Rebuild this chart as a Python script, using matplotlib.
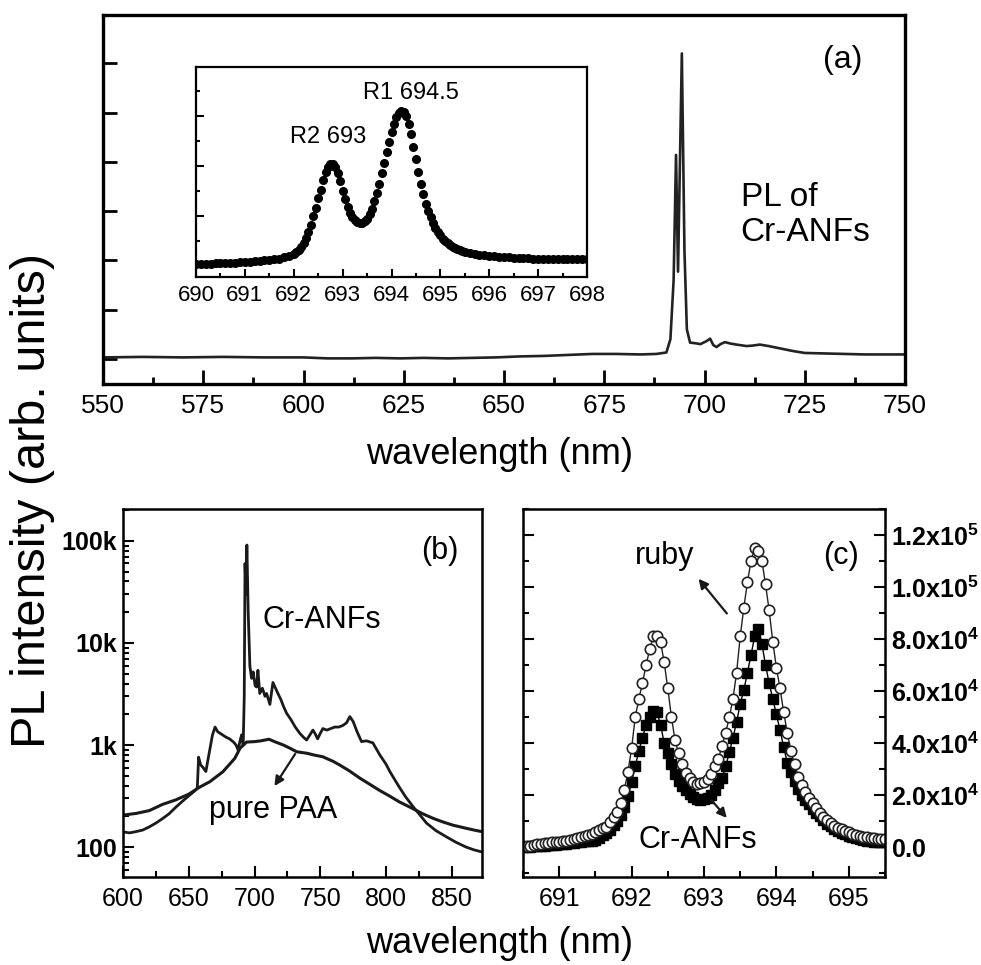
import numpy as np
import matplotlib
matplotlib.use('agg')
import matplotlib.pyplot as plt
from matplotlib.ticker import MultipleLocator, FixedLocator, LogLocator, NullFormatter

plt.rcParams['font.family'] = ['Liberation Sans', 'DejaVu Sans']
plt.rcParams['mathtext.fontset'] = 'custom'
plt.rcParams['mathtext.rm'] = 'Liberation Sans'
plt.rcParams['mathtext.bf'] = 'Liberation Sans:bold'

# ---- panel (a): full PL spectrum of Cr-ANFs (arb. units, 0 = lowest tick)
a_wl = [550, 560, 570, 580, 590, 600, 603, 606, 612, 618, 624, 630, 636, 642, 648,
        654, 660, 666, 672, 678, 684, 688, 690.5, 691.5, 692.3, 692.9, 693.4, 694.35,
        695.0, 695.6, 696.4, 697.5, 699, 700.5, 701.4, 702.2, 703, 704, 705.1, 706.5,
        708, 710.5, 712, 713.8, 716, 719, 722, 725, 730, 735, 740, 745, 750]
a_int = [0.03, 0.04, 0.03, 0.04, 0.03, 0.03, 0.02, 0.01, 0.01, 0.02, 0.01, 0.02, 0.01, 0.02, 0.03,
         0.05, 0.06, 0.08, 0.10, 0.10, 0.09, 0.10, 0.13, 0.4, 1.6, 4.14, 1.77, 6.2,
         2.2, 0.6, 0.33, 0.32, 0.30, 0.36, 0.41, 0.28, 0.24, 0.30, 0.34, 0.31,
         0.29, 0.26, 0.27, 0.29, 0.26, 0.21, 0.16, 0.12, 0.11, 0.10, 0.09, 0.09, 0.09]

# ---- inset: R lines (normalised intensity)
inset_wl = np.concatenate([np.round(np.arange(690.0, 691.95, 0.1), 2),
                           np.round(np.arange(692.0, 695.49, 0.05), 2),
                           np.round(np.arange(695.5, 698.01, 0.1), 2)])
inset_int = [0.060, 0.062, 0.063, 0.064, 0.065, 0.066, 0.067, 0.068, 0.069, 0.070,
             0.072, 0.073, 0.075, 0.077, 0.079, 0.081, 0.084, 0.088, 0.093, 0.100,
             0.110, 0.118, 0.128, 0.142, 0.160, 0.185, 0.215, 0.250, 0.290, 0.330,
             0.375, 0.415, 0.460, 0.500, 0.525, 0.540, 0.540, 0.525, 0.495, 0.455,
             0.410, 0.370, 0.335, 0.305, 0.285, 0.270, 0.262, 0.258, 0.258, 0.265,
             0.278, 0.298, 0.325, 0.360, 0.400, 0.445, 0.495, 0.545, 0.595, 0.645,
             0.690, 0.730, 0.760, 0.780, 0.790, 0.785, 0.765, 0.730, 0.680, 0.620,
             0.560, 0.500, 0.445, 0.395, 0.350, 0.315, 0.285, 0.258, 0.235, 0.215,
             0.198, 0.183, 0.170, 0.160, 0.151, 0.144, 0.138, 0.132, 0.127, 0.123,
             0.120, 0.115, 0.110, 0.106, 0.103, 0.100, 0.098, 0.096, 0.094, 0.093,
             0.092, 0.091, 0.090, 0.089, 0.088, 0.088, 0.087, 0.087, 0.087, 0.087,
             0.087, 0.087, 0.087, 0.088, 0.088, 0.088]

# ---- panel (b): log-scale spectra
b_cr_wl = [600, 605, 610, 615, 620, 625, 630, 635, 640, 645, 650, 655, 656.5, 657.5, 659,
           661, 663, 666, 668, 670, 672, 674, 676, 678, 681, 684, 686, 687.6, 689, 690.2,
           691.4, 692.2, 692.8, 693.5, 694.2, 695.2, 696.5, 697.8, 699, 700.5, 701.6,
           702.6, 704, 706, 708, 709.2, 711.7, 714, 716, 717.8, 720, 722, 724.4, 728,
           731, 734.5, 737, 739.6, 742, 744.4, 746, 748, 750, 752, 755, 758, 761, 764,
           767, 770, 772.5, 775, 778, 781.4, 785, 790, 795.3, 800, 803, 807, 810.5, 815,
           820.7, 826, 830.8, 838, 846, 853, 861, 867, 872.5, 875]
b_cr_int = [141, 138, 142, 147, 158, 172, 190, 212, 245, 280, 318, 360, 380, 760, 640,
            600, 550, 900, 1250, 1500, 1350, 1300, 1250, 1200, 1150, 1070, 1000, 890, 1100, 1260,
            1000, 3000, 60000, 30000, 91000, 20000, 5900, 4500, 5200, 3800, 3700,
            5400, 3200, 3600, 3000, 3200, 2500, 4100, 3600, 3200, 2800, 2400, 2050, 1750,
            1500, 1300, 1200, 1120, 1250, 1400, 1300, 1150, 1300, 1450, 1400, 1450, 1500, 1500,
            1550, 1650, 1900, 1700, 1350, 1080, 1100, 1050, 800, 650, 548, 450, 380, 310,
            248, 205, 172, 145, 126, 112, 100, 94, 90, 90]
b_paa_wl = [600, 610, 620, 630, 640, 650, 658, 666, 676, 685, 689, 694, 700, 705, 711,
            716, 722, 727, 732, 740, 745, 752, 760, 765, 772, 780, 788, 795, 803, 810,
            820, 828, 836, 843, 851, 860, 867, 875]
b_paa_int = [206, 214, 228, 262, 290, 330, 385, 437, 548, 740, 930, 1070, 1080, 1100, 1140,
             1070, 1000, 930, 860, 830, 800, 767, 690, 635, 560, 475, 410, 360, 315, 278,
             240, 212, 191, 177, 164, 154, 147, 140]
b_ticks = [100, 1000, 10000, 100000]
b_ticklabels = ['100', '1k', '10k', '100k']

# ---- panel (c): R lines, ruby vs Cr-ANFs (intensity in thousands of counts)
c_wl = np.round(np.arange(690.5, 695.51, 0.05), 2)
c_ruby_k = [0.3, 0.4, 0.6, 0.8, 1.0, 1.2, 1.4, 1.6, 1.8, 1.9,
            2.0, 2.2, 2.5, 2.8, 3.1, 3.5, 3.9, 4.3, 4.6, 5.2,
            5.8, 6.5, 7.2, 7.9, 9.5, 11.5, 13.5, 17, 22, 29,
            38, 50, 57, 63, 70, 76, 81, 81, 79, 71,
            61, 50, 41, 36, 32, 28.5, 26.5, 25, 24.3, 24.5,
            25, 26, 28, 31, 34, 39, 44, 50, 57, 67,
            81, 92, 102, 110, 115, 114, 110, 101, 91, 79,
            69, 61, 52, 44, 37, 32, 27, 24, 21, 19,
            17, 15, 13, 11.5, 10.3, 9.2, 8.3, 7.5, 6.8, 6.2,
            5.7, 5.2, 4.8, 4.4, 4.0, 3.8, 3.6, 3.4, 3.3, 3.2, 3.1]
c_cr_k = [0.0, 0.1, 0.2, 0.3, 0.4, 0.5, 0.6, 0.7, 0.8, 0.9,
          1.0, 1.1, 1.2, 1.4, 1.6, 1.8, 2.0, 2.2, 2.4, 2.5,
          2.6, 3.5, 4.5, 5.5, 6.6, 8.5, 10, 12.5, 15.5, 19.5,
          25, 31, 37, 42, 47, 50, 52.5, 52, 47, 40,
          36, 32, 28, 25.3, 23.5, 22, 20.5, 19.2, 18.3, 18,
          18.3, 18.8, 20, 22, 24.5, 26.5, 31, 36.5, 42, 48,
          55, 60.4, 67, 74, 81, 84, 78, 70, 63, 57,
          51, 45, 38.5, 32.5, 29, 25.5, 22.5, 20, 18, 16.5,
          14.8, 13, 11.8, 10.4, 9, 8, 7.1, 6.3, 5.6, 5,
          4.4, 3.9, 3.4, 3.1, 2.8, 2.5, 2.3, 2.1, 2.0, 1.9, 1.8]
c_ticks = [0, 2e4, 4e4, 6e4, 8e4, 1e5, 1.2e5]
c_ticklabels = [r'$\mathbf{0.0}$', r'$\mathbf{2.0x10^{4}}$', r'$\mathbf{4.0x10^{4}}$',
                r'$\mathbf{6.0x10^{4}}$', r'$\mathbf{8.0x10^{4}}$', r'$\mathbf{1.0x10^{5}}$',
                r'$\mathbf{1.2x10^{5}}$']

W, H = 981, 965
fig = plt.figure(figsize=(W / 100, H / 100), dpi=100)


def box(l, t, r, b):
    return [l / W, 1 - b / H, (r - l) / W, (b - t) / H]


# ================= (a)
ax_a = fig.add_axes(box(103, 15, 905, 384))
ax_a.plot(a_wl, a_int, '-', color='#222222', lw=1.9)
ax_a.set_xlim(550, 750)
ax_a.set_ylim(-0.51, 6.98)
ax_a.xaxis.set_major_locator(MultipleLocator(25))
ax_a.xaxis.set_minor_locator(MultipleLocator(12.5))
ax_a.yaxis.set_major_locator(MultipleLocator(1))
ax_a.set_yticklabels([])
ax_a.tick_params(which='both', direction='in', top=False, right=False, width=2, labelsize=19, pad=7)
ax_a.tick_params(which='major', length=10)
ax_a.tick_params(which='minor', length=5)
for s in ax_a.spines.values():
    s.set_linewidth(2.4)
ax_a.text(734.5, 6.06, '(a)', fontsize=23, ha='center', va='center')
ax_a.text(709, 2.92, 'PL of\nCr-ANFs', fontsize=24, ha='left', va='center', linespacing=1.15)

# inset
ax_i = fig.add_axes(box(196, 67, 587, 277))
ax_i.plot(inset_wl, inset_int, 'o', color='black', ms=5.5, mec='black')
ax_i.set_xlim(690, 698)
ax_i.set_ylim(0, 1)
ax_i.xaxis.set_major_locator(MultipleLocator(1))
ax_i.xaxis.set_minor_locator(MultipleLocator(0.5))
ax_i.yaxis.set_major_locator(FixedLocator([0.05, 0.289, 0.529, 0.765]))
ax_i.yaxis.set_minor_locator(FixedLocator([0.17, 0.41, 0.647, 0.885]))
ax_i.set_yticklabels([])
ax_i.tick_params(which='both', direction='in', top=False, right=False, width=1.5, labelsize=16, pad=6)
ax_i.tick_params(which='major', length=6)
ax_i.tick_params(which='minor', length=3)
for s in ax_i.spines.values():
    s.set_linewidth(1.6)
ax_i.text(692.7, 0.667, 'R2 693', fontsize=17, ha='center', va='center')
ax_i.text(694.39, 0.875, 'R1 694.5', fontsize=17, ha='center', va='center')

fig.text(0.509, 1 - 455 / H, 'wavelength (nm)', fontsize=26, ha='center', va='center')

# ================= (b)
ax_b = fig.add_axes(box(123, 509, 482, 877))
ax_b.plot(b_paa_wl, b_paa_int, '-', color='#1a1a1a', lw=2.2)
ax_b.plot(b_cr_wl, b_cr_int, '-', color='#1a1a1a', lw=2.0)
ax_b.set_yscale('log')
ax_b.set_xlim(600, 873)
ax_b.set_ylim(51, 2.05e5)
ax_b.xaxis.set_major_locator(MultipleLocator(50))
ax_b.xaxis.set_minor_locator(MultipleLocator(25))
ax_b.set_yticks(b_ticks)
ax_b.set_yticklabels(b_ticklabels, fontweight='bold')
ax_b.yaxis.set_minor_locator(LogLocator(base=10, subs=np.arange(2, 10)))
ax_b.yaxis.set_minor_formatter(NullFormatter())
ax_b.tick_params(which='both', direction='in', top=False, right=False, width=1.5, labelsize=18)
ax_b.tick_params(axis='x', pad=7)
ax_b.tick_params(axis='y', pad=4)
ax_b.tick_params(which='major', length=8)
ax_b.tick_params(which='minor', length=4)
for s in ax_b.spines.values():
    s.set_linewidth(1.8)
ax_b.text(841, 7.9e4, '(b)', fontsize=22, ha='center', va='center')
ax_b.text(751, 1.68e4, 'Cr-ANFs', fontsize=22, ha='center', va='center')
ax_b.text(714, 230, 'pure PAA', fontsize=22, ha='center', va='center')
ax_b.annotate('', xy=(714, 376), xytext=(732, 860),
              arrowprops=dict(arrowstyle='-|>', color='#1a1a1a', lw=1.6, mutation_scale=14))

# ================= (c)
ax_c = fig.add_axes(box(523, 509, 885, 877))
ax_c.plot(c_wl, np.array(c_cr_k) * 1000, 's-', color='black', ms=6.5, lw=1.0,
          mfc='black', mec='black')
ax_c.plot(c_wl, np.array(c_ruby_k) * 1000, 'o-', color='#222222', ms=7.5, lw=1.0,
          mfc='white', mec='#222222', mew=1.2)
ax_c.set_xlim(690.5, 695.5)
ax_c.set_ylim(-1.15e4, 1.3e5)
ax_c.xaxis.set_major_locator(MultipleLocator(1))
ax_c.xaxis.set_minor_locator(MultipleLocator(0.5))
ax_c.set_yticks(c_ticks)
ax_c.set_yticklabels(c_ticklabels)
ax_c.yaxis.set_minor_locator(MultipleLocator(1e4))
ax_c.tick_params(which='both', direction='in', top=False, left=True, right=True,
                 labelleft=False, labelright=True, width=1.5, labelsize=18)
ax_c.tick_params(axis='x', pad=7)
ax_c.tick_params(axis='y', pad=4)
ax_c.tick_params(which='major', length=8)
ax_c.tick_params(which='minor', length=4)
for s in ax_c.spines.values():
    s.set_linewidth(1.8)
ax_c.text(694.89, 1.12e5, '(c)', fontsize=22, ha='center', va='center')
ax_c.text(692.46, 1.12e5, 'ruby', fontsize=22, ha='center', va='center')
ax_c.text(692.92, 2.7e3, 'Cr-ANFs', fontsize=22, ha='center', va='center')
ax_c.annotate('', xy=(692.9, 1.04e5), xytext=(693.34, 8.9e4),
              arrowprops=dict(arrowstyle='-|>', color='#1a1a1a', lw=1.6, mutation_scale=14))
ax_c.annotate('', xy=(693.34, 1.04e4), xytext=(693.08, 1.88e4),
              arrowprops=dict(arrowstyle='-|>', color='#1a1a1a', lw=1.6, mutation_scale=14))

fig.text(0.509, 0.022, 'wavelength (nm)', fontsize=26, ha='center', va='center')
fig.text(0.033, 1 - 500 / H, 'PL intensity (arb. units)', fontsize=35, ha='center', va='center',
         rotation=90)

fig.savefig('out.png', dpi=100)
plt.close(fig)
